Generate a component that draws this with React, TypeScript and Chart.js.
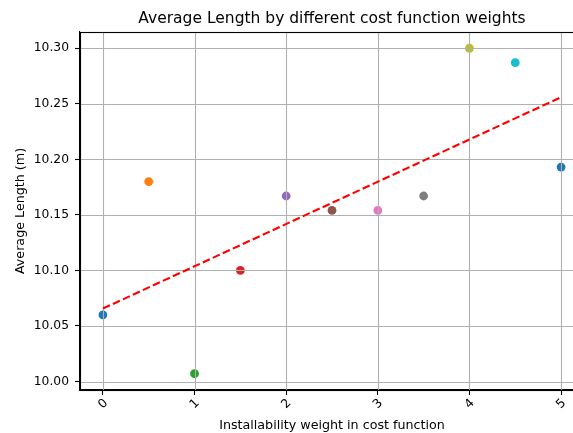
import { useEffect, useRef } from "react";
import { Chart, registerables } from "chart.js";

Chart.register(...registerables);

// Installability weight used in the cost function
const weights = [0, 0.5, 1, 1.5, 2, 2.5, 3, 3.5, 4, 4.5, 5];
// Resulting average length (m) for each weight
const avgLength = [10.06, 10.18, 10.007, 10.1, 10.167, 10.154, 10.154, 10.167, 10.3, 10.287, 10.193];
// One colour per run (tab10 cycle)
const pointColors = [
  "#1f77b4", "#ff7f0e", "#2ca02c", "#d62728", "#9467bd", "#8c564b",
  "#e377c2", "#7f7f7f", "#bcbd22", "#17becf", "#1f77b4",
];
const xTicks = [0, 1, 2, 3, 4, 5];
const yTicks = [10.0, 10.05, 10.1, 10.15, 10.2, 10.25, 10.3];

const TITLE = "Average Length by different cost function weights";
const X_LABEL = "Installability weight in cost function";
const Y_LABEL = "Average Length (m)";
const FONT = "'DejaVu Sans', sans-serif";

// Least-squares fit y = a + b x
function linearFit(xs: number[], ys: number[]) {
  const n = xs.length;
  const mx = xs.reduce((s, v) => s + v, 0) / n;
  const my = ys.reduce((s, v) => s + v, 0) / n;
  let sxy = 0;
  let sxx = 0;
  for (let i = 0; i < n; i++) {
    sxy += (xs[i] - mx) * (ys[i] - my);
    sxx += (xs[i] - mx) * (xs[i] - mx);
  }
  const b = sxy / sxx;
  return { a: my - b * mx, b };
}

// Padded axis limits (5% of the data span on each side)
function paddedRange(vals: number[]) {
  const lo = Math.min(...vals);
  const hi = Math.max(...vals);
  const m = (hi - lo) * 0.05;
  return [lo - m, hi + m];
}

const gridAndFrame = {
  id: "gridAndFrame",
  // grid lines go over the scatter markers but under the trend line
  afterDatasetDraw(chart: any, args: any) {
    if (args.index !== 0) return;
    const { ctx, chartArea: ca, scales } = chart;
    ctx.save();
    ctx.beginPath();
    ctx.rect(ca.left, ca.top, ca.right - ca.left, ca.bottom - ca.top);
    ctx.clip();
    ctx.strokeStyle = "#b0b0b0";
    ctx.lineWidth = 1.1;
    for (const t of xTicks) {
      const px = Math.round(scales.x.getPixelForValue(t)) + 0.5;
      ctx.beginPath();
      ctx.moveTo(px, ca.top);
      ctx.lineTo(px, ca.bottom);
      ctx.stroke();
    }
    for (const t of yTicks) {
      const py = Math.round(scales.y.getPixelForValue(t)) + 0.5;
      ctx.beginPath();
      ctx.moveTo(ca.left, py);
      ctx.lineTo(ca.right, py);
      ctx.stroke();
    }
    ctx.restore();
  },
  afterDraw(chart: any) {
    const { ctx, chartArea: ca } = chart;
    ctx.save();
    ctx.strokeStyle = "#000";
    ctx.lineWidth = 1.1;
    ctx.strokeRect(Math.round(ca.left) + 0.5, Math.round(ca.top) + 0.5, ca.right - ca.left, ca.bottom - ca.top);
    ctx.fillStyle = "#000";
    ctx.font = `15.5px ${FONT}`;
    ctx.textAlign = "center";
    ctx.textBaseline = "middle";
    ctx.fillText(TITLE, (ca.left + ca.right) / 2, 18.5);
    ctx.restore();
  },
};

export default function App() {
  const canvasRef = useRef<HTMLCanvasElement | null>(null);

  useEffect(() => {
    const canvas = canvasRef.current;
    if (!canvas) return;
    const fit = linearFit(weights, avgLength);
    const x0 = Math.min(...weights);
    const x1 = Math.max(...weights);
    const [xMin, xMax] = paddedRange(weights);
    const [yMin, yMax] = paddedRange(avgLength);

    const chart = new Chart(canvas, {
      type: "scatter",
      data: {
        datasets: [
          {
            type: "scatter",
            order: 2,
            data: weights.map((w, i) => ({ x: w, y: avgLength[i] })),
            pointBackgroundColor: pointColors,
            pointBorderWidth: 0,
            pointRadius: 4.4,
            pointHoverRadius: 4.4,
          },
          {
            type: "line",
            order: 1,
            data: [
              { x: x0, y: fit.a + fit.b * x0 },
              { x: x1, y: fit.a + fit.b * x1 },
            ],
            borderColor: "#ff0000",
            borderWidth: 2.1,
            borderDash: [7.7, 3.3],
            pointRadius: 0,
            fill: false,
          },
        ],
      },
      options: {
        responsive: false,
        animation: false,
        devicePixelRatio: 1,
        layout: { padding: { top: 32, right: 16, left: 0, bottom: 0 } },
        plugins: {
          legend: { display: false },
          tooltip: { enabled: false },
          title: { display: false },
        },
        scales: {
          x: {
            type: "linear",
            min: xMin,
            max: xMax,
            afterBuildTicks: (scale: any) => {
              scale.ticks = xTicks.map((v) => ({ value: v }));
            },
            afterFit: (scale: any) => {
              scale.height = 43;
            },
            grid: {
              color: "rgba(0,0,0,0)",
              tickColor: "#000",
              tickLength: 5,
              tickWidth: 1.1,
            },
            border: { display: true, color: "#000", width: 1.1 },
            ticks: {
              autoSkip: false,
              minRotation: 45,
              maxRotation: 45,
              padding: 1,
              labelOffset: 3,
              color: "#000",
              font: { family: FONT, size: 12.3 },
              callback: (v: any) => String(v),
            },
            title: {
              display: true,
              text: X_LABEL,
              color: "#000",
              font: { family: FONT, size: 12.7, lineHeight: 1.2 },
              padding: { top: 0, bottom: 0 },
            },
          },
          y: {
            type: "linear",
            min: yMin,
            max: yMax,
            afterBuildTicks: (scale: any) => {
              scale.ticks = yTicks.map((v) => ({ value: v }));
            },
            afterFit: (scale: any) => {
              scale.width = 80;
            },
            grid: {
              color: "rgba(0,0,0,0)",
              tickColor: "#000",
              tickLength: 5,
              tickWidth: 1.1,
            },
            border: { display: true, color: "#000", width: 1.1 },
            ticks: {
              autoSkip: false,
              padding: 6,
              color: "#000",
              font: { family: FONT, size: 12.3 },
              callback: (v: any) => Number(v).toFixed(2),
            },
            title: {
              display: true,
              text: Y_LABEL,
              color: "#000",
              font: { family: FONT, size: 12.7, lineHeight: 1.2 },
              padding: { top: 13.4, bottom: 0 },
            },
          },
        },
      },
      plugins: [gridAndFrame],
    });
    return () => chart.destroy();
  }, []);

  return (
    <div
      style={{
        position: "fixed",
        left: 0,
        top: 0,
        width: 573,
        height: 433,
        overflow: "hidden",
        background: "#fff",
      }}
    >
      <canvas ref={canvasRef} width={600} height={433} style={{ display: "block", width: 600, height: 433 }} />
    </div>
  );
}
